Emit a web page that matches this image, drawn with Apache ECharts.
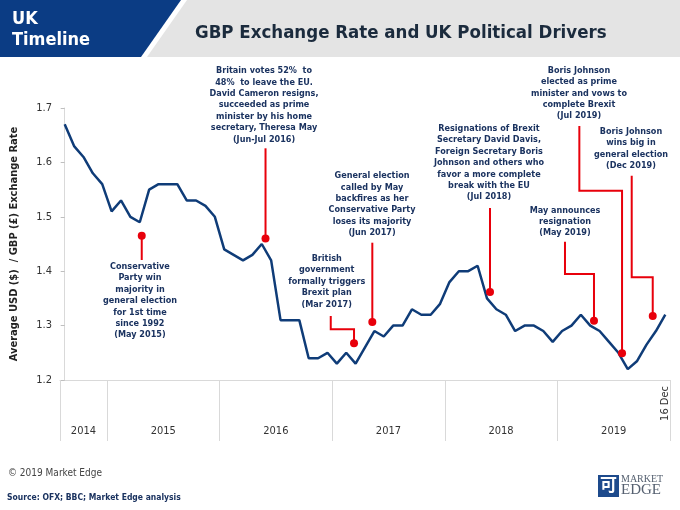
<!DOCTYPE html>
<html>
<head>
<meta charset="utf-8">
<script src="https://cdn.jsdelivr.net/npm/echarts@6/dist/echarts.min.js"></script>
<style>
  html, body { margin: 0; padding: 0; background: #fff; }
  #chart { width: 680px; height: 510px; }
</style>
</head>
<body>
<div id="chart"></div>
<script>
// monthly categories, Aug 2014 - Dec 2019
var monthNames = ['Jan', 'Feb', 'Mar', 'Apr', 'May', 'Jun', 'Jul', 'Aug', 'Sep', 'Oct', 'Nov', 'Dec'];
var months = [];
for (var y = 2014; y <= 2019; y++) {
    for (var m = (y === 2014 ? 7 : 0); m < 12; m++) {
        months.push(monthNames[m] + ' ' + y);
    }
}
// average USD / GBP rate per month
var rates = [
    1.67, 1.63, 1.61, 1.58, 1.56,
    1.51, 1.53, 1.50, 1.49, 1.55, 1.56, 1.56, 1.56, 1.53, 1.53, 1.52, 1.50,
    1.44, 1.43, 1.42, 1.43, 1.45, 1.42, 1.31, 1.31, 1.31, 1.24, 1.24, 1.25,
    1.23, 1.25, 1.23, 1.26, 1.29, 1.28, 1.30, 1.30, 1.33, 1.32, 1.32, 1.34,
    1.38, 1.40, 1.40, 1.41, 1.35, 1.33, 1.32, 1.29, 1.30, 1.30, 1.29, 1.27,
    1.29, 1.30, 1.32, 1.30, 1.29, 1.27, 1.25, 1.22, 1.235, 1.265, 1.29, 1.32
];
// year labels and their centres (in month-index units) on the bottom axis
var yearLabels = ['2014', '2015', '2016', '2017', '2018', '2019'];
var yearCenters = [2, 10.5, 22.5, 34.5, 46.5, 58.5];
// index of first month of each year (year separators)
var yearStarts = [0, 5, 17, 29, 41, 53];
var lastLabel = '16 Dec';

// political events: text, text centre, leader path ending at the red dot
var noteTexts = [
    'Conservative\nParty win\nmajority in\ngeneral election\nfor 1st time\nsince 1992\n(May 2015)',
    'Britain votes 52%  to\n48%  to leave the EU.\nDavid Cameron resigns,\nsucceeded as prime\nminister by his home\nsecretary, Theresa May\n(Jun-Jul 2016)',
    'British\ngovernment\nformally triggers\nBrexit plan\n(Mar 2017)',
    'General election\ncalled by May\nbackfires as her\nConservative Party\nloses its majority\n(Jun 2017)',
    'Resignations of Brexit\nSecretary David Davis,\nForeign Secretary Boris\nJohnson and others who\nfavor a more complete\nbreak with the EU\n(Jul 2018)',
    'May announces\nresignation\n(May 2019)',
    'Boris Johnson\nelected as prime\nminister and vows to\ncomplete Brexit\n(Jul 2019)',
    'Boris Johnson\nwins big in\ngeneral election\n(Dec 2019)'
];
var noteCenters = [
    [8.02, 1.3456], [21.24, 1.7055], [27.92, 1.381], [32.75, 1.523],
    [45.21, 1.599], [53.31, 1.491], [54.80, 1.727], [60.34, 1.625]
];
var notePaths = [
    [[8.21, 1.4206], [8.21, 1.4653]],
    [[21.40, 1.6259], [21.40, 1.4601]],
    [[28.35, 1.3176], [28.35, 1.2932], [30.83, 1.2932], [30.83, 1.2675]],
    [[32.78, 1.4524], [32.78, 1.3066]],
    [[45.32, 1.5162], [45.32, 1.3618]],
    [[53.31, 1.4542], [53.31, 1.3949], [56.40, 1.3949], [56.40, 1.309]],
    [[54.84, 1.6669], [54.84, 1.548], [59.39, 1.548], [59.39, 1.2491]],
    [[60.42, 1.5756], [60.42, 1.3888], [62.66, 1.3888], [62.66, 1.3176]]
];

var FONT = "'DejaVu Sans Condensed', 'DejaVu Sans', sans-serif";
var NAVY = '#1b3360';
var RED = '#e8000b';

var chart = echarts.init(document.getElementById('chart'));

var option = {
    backgroundColor: '#fff',
    animation: false,
    grid: { left: 60, right: 10, top: 108, bottom: 130 },
    graphic: [
        // header band
        { type: 'rect', shape: { x: 0, y: 0, width: 680, height: 57 }, style: { fill: '#e4e4e4' }, z: 0 },
        { type: 'polygon', shape: { points: [[0, 0], [187, 0], [147, 57], [0, 57]] }, style: { fill: '#fff' }, z: 1 },
        { type: 'polygon', shape: { points: [[0, 0], [181, 0], [141, 57], [0, 57]] }, style: { fill: '#0b3c84' }, z: 2 },
        { type: 'text', left: 12, top: 9, z: 3, style: { text: 'UK\nTimeline', fill: '#fff', font: 'bold 18px ' + FONT, lineHeight: 21 } },
        { type: 'text', left: 195, top: 24, z: 3, style: { text: 'GBP Exchange Rate and UK Political Drivers', fill: '#1b2b3d', font: 'bold 18.5px ' + FONT } },
        // footer
        { type: 'text', left: 8, top: 468, style: { text: '\u00a9 2019 Market Edge', fill: '#444', font: '10px ' + FONT } },
        { type: 'text', left: 7, top: 493, style: { text: 'Source: OFX; BBC; Market Edge analysis', fill: NAVY, font: 'bold 8.5px ' + FONT } },
        // logo
        { type: 'rect', shape: { x: 598, y: 475, width: 21, height: 22 }, style: { fill: '#1d4a8c' } },
        { type: 'text', left: 600, top: 476, style: { text: '\u53ef', fill: '#fff', font: 'bold 17px "Noto Sans CJK SC"' } },
        { type: 'text', left: 621, top: 474, style: { text: 'MARKET', fill: '#556070', font: '10px "Liberation Serif", serif' } },
        { type: 'text', left: 621, top: 483, style: { text: 'EDGE', fill: '#556070', font: '15px "Liberation Serif", serif' } }
    ],
    xAxis: [{
        type: 'category',
        data: months,
        boundaryGap: true,
        axisLine: { lineStyle: { color: '#d9d9d9', width: 1 } },
        axisTick: {
            show: true,
            length: 61,
            lineStyle: { color: '#d9d9d9' },
            interval: function (idx) { return yearStarts.indexOf(idx) >= 0; }
        },
        axisLabel: {
            interval: function (idx) { return idx === months.length - 1; },
            formatter: function () { return lastLabel; },
            rotate: 90,
            margin: 6,
            color: '#333',
            fontFamily: FONT,
            fontSize: 11
        },
        splitLine: { show: false }
    }, {
        type: 'value',
        position: 'bottom',
        min: -0.5,
        max: months.length - 0.5,
        interval: 0.5,
        axisLine: { show: false },
        axisTick: { show: false },
        splitLine: { show: false },
        axisLabel: {
            margin: 46,
            color: '#333',
            fontFamily: FONT,
            fontSize: 11,
            formatter: function (v) {
                var k = yearCenters.indexOf(v);
                return k >= 0 ? yearLabels[k] : '';
            }
        }
    }],
    yAxis: {
        type: 'value',
        min: 1.2,
        max: 1.7,
        interval: 0.1,
        name: 'Average USD ($)  / GBP (\u00a3) Exchange Rate',
        nameLocation: 'middle',
        nameGap: 40,
        nameTextStyle: { color: '#222', fontWeight: 'bold', fontSize: 11, fontFamily: FONT },
        axisLine: { show: true, lineStyle: { color: '#d9d9d9' } },
        axisTick: { show: true, length: 4, lineStyle: { color: '#bfbfbf' } },
        splitLine: { show: false },
        axisLabel: {
            margin: 8,
            color: '#333',
            fontFamily: FONT,
            fontSize: 11,
            formatter: function (v) { return v.toFixed(1); }
        }
    },
    series: [{
        name: 'GBP',
        type: 'line',
        data: rates,
        showSymbol: false,
        lineStyle: { color: '#0f3c78', width: 2.5 },
        z: 3
    }, {
        type: 'lines',
        coordinateSystem: 'cartesian2d',
        xAxisIndex: 1,
        polyline: true,
        lineStyle: { color: RED, width: 2, opacity: 1 },
        data: notePaths.map(function (p) { return { coords: p }; }),
        z: 4
    }, {
        type: 'scatter',
        xAxisIndex: 1,
        symbolSize: 8,
        itemStyle: { color: RED, opacity: 1 },
        data: notePaths.map(function (p) { return p[p.length - 1]; }),
        clip: false,
        z: 5
    }, {
        type: 'scatter',
        xAxisIndex: 1,
        symbolSize: 0,
        clip: false,
        silent: true,
        itemStyle: { opacity: 1 },
        data: noteCenters.map(function (c, i) { return { name: noteTexts[i], value: c }; }),
        label: {
            show: true,
            position: 'inside',
            formatter: '{b}',
            color: NAVY,
            opacity: 1,
            fontFamily: FONT,
            fontWeight: 'bold',
            fontSize: 9,
            lineHeight: 11.4,
            align: 'center',
            verticalAlign: 'middle'
        },
        z: 6
    }]
};
chart.setOption(option, true);
</script>
</body>
</html>
